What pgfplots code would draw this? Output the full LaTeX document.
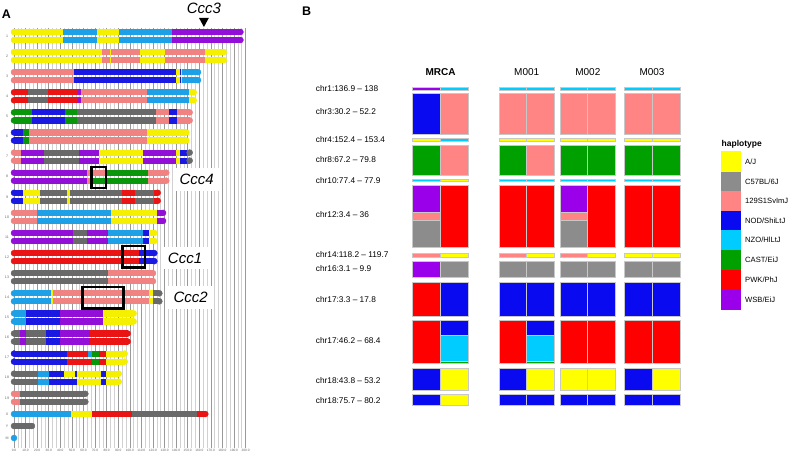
\documentclass[border=0pt]{standalone}
\usepackage{fontspec}
\setmainfont{Liberation Sans}
\usepackage{pgfplots}
\pgfplotsset{compat=1.18}

% panel A colours
\definecolor{aY}{RGB}{245,240,0}
\definecolor{aK}{RGB}{105,105,105}
\definecolor{aS}{RGB}{240,130,130}
\definecolor{aB}{RGB}{25,25,225}
\definecolor{aL}{RGB}{30,160,230}
\definecolor{aG}{RGB}{10,150,10}
\definecolor{aR}{RGB}{235,20,20}
\definecolor{aP}{RGB}{145,15,215}
% panel B colours
\definecolor{bY}{RGB}{255,255,0}
\definecolor{bK}{RGB}{140,140,140}
\definecolor{bS}{RGB}{255,133,133}
\definecolor{bB}{RGB}{10,10,240}
\definecolor{bC}{RGB}{0,204,255}
\definecolor{bG}{RGB}{0,160,0}
\definecolor{bR}{RGB}{255,0,0}
\definecolor{bP}{RGB}{155,0,235}
\definecolor{bd}{RGB}{200,200,200}

% chromosome segments (panel A): colour, y, from, to
\newcommand{\hs}[4]{\addplot[forget plot,line width=6.2pt,color=#1] coordinates {(#3,#2) (#4,#2)};}
\newcommand{\ds}[5]{\hs{#1}{#2}{#4}{#5}\hs{#1}{#3}{#4}{#5}}
\newcommand{\cp}[3]{\addplot[forget plot,only marks,mark=*,mark size=3.0pt,color=#1] coordinates {(#3,#2)};}
\newcommand{\dcp}[4]{\cp{#1}{#2}{#4}\cp{#1}{#3}{#4}}

% panel B cells: colour, x0, x1, y0, y1
\newcommand{\cell}[5]{\addplot[forget plot,fill=#1,draw=bd,line width=0.7pt] coordinates {(#2,#4) (#3,#4) (#3,#5) (#2,#5)} -- cycle;}
\newcommand{\pair}[7]{\cell{#6}{#1}{#2}{#4}{#5}\cell{#7}{#2}{#3}{#4}{#5}}
\newcommand{\MRCA}[4]{\pair{412.7}{440.4}{468.3}{#1}{#2}{#3}{#4}}
\newcommand{\Mone}[4]{\pair{499}{526.7}{554.3}{#1}{#2}{#3}{#4}}
\newcommand{\Mtwo}[4]{\pair{560}{587.8}{615.7}{#1}{#2}{#3}{#4}}
\newcommand{\Mthr}[4]{\pair{624}{652}{680}{#1}{#2}{#3}{#4}}
\newcommand{\key}[3]{\addplot[forget plot,fill=#1,draw=none] coordinates {(721,#2) (740.7,#2) (740.7,#3) (721,#3)} -- cycle;}

\begin{document}
\begin{tikzpicture}
\path[use as bounding box] (0,0) rectangle (794pt,456pt);

%================ Panel A =================
\begin{axis}[
  at={(129.8pt,218pt)}, anchor=center,
  scale only axis, width=231.6pt, height=420pt,
  xmin=0, xmax=200, ymin=-448, ymax=-28,
  axis line style={draw=none}, tick style={draw=none},
  xtick={0,10,...,200}, minor x tick num=2,
  xmajorgrids, xminorgrids,
  major grid style={color=black!40,line width=0.5pt},
  minor grid style={color=black!18,line width=0.5pt},
  xticklabel style={font=\fontsize{3.2}{3.5}\selectfont, text=black!60, inner sep=1pt,
    /pgf/number format/.cd, fixed, fixed zerofill, precision=1, assume math mode=true},
  ytick={-36,-56.1,-76.2,-96.3,-116.4,-136.5,-156.6,-176.7,-196.8,-216.9,-237,-257.1,-277.2,-297.3,-317.4,-337.5,-357.6,-377.7,-397.8,-414,-426,-438},
  yticklabels={1,2,3,4,5,6,7,8,9,10,11,12,13,14,15,16,17,18,19,X,Y,M},
  yticklabel style={font=\fontsize{3.6}{4}\selectfont, text=black!60, anchor=center, xshift=-7pt},
  clip=false,
]
% chr1
\dcp{aY}{-32}{-40}{0}
\ds{aY}{-32}{-40}{0}{42.6}
\ds{aL}{-32}{-40}{42.6}{71.4}
\ds{aY}{-32}{-40}{71.4}{91.0}
\ds{aL}{-32}{-40}{91.0}{136.7}
\ds{aP}{-32}{-40}{136.7}{195.5}
\dcp{aP}{-32}{-40}{195.5}
% chr2
\dcp{aY}{-52.1}{-60.1}{0}
\ds{aY}{-52.1}{-60.1}{0}{76.3}
\ds{aS}{-52.1}{-60.1}{76.3}{108.8}
\ds{aY}{-52.1}{-60.1}{82.6}{83.2}
\ds{aY}{-52.1}{-60.1}{108.8}{130.4}
\ds{aS}{-52.1}{-60.1}{130.4}{165.0}
\ds{aY}{-52.1}{-60.1}{165.0}{181.1}
\dcp{aY}{-52.1}{-60.1}{181.1}
% chr3
\dcp{aS}{-72.2}{-80.2}{0}
\ds{aS}{-72.2}{-80.2}{0}{51.8}
\ds{aB}{-72.2}{-80.2}{51.8}{139.9}
\ds{aY}{-72.2}{-80.2}{139.9}{144.8}
\ds{aB}{-72.2}{-80.2}{143.0}{143.6}
\ds{aL}{-72.2}{-80.2}{144.8}{158.9}
\dcp{aL}{-72.2}{-80.2}{158.9}
% chr4
\dcp{aR}{-92.3}{-100.3}{0}
\ds{aR}{-92.3}{-100.3}{0}{12.4}
\ds{aK}{-92.3}{-100.3}{12.4}{29.0}
\ds{aR}{-92.3}{-100.3}{29.0}{55.6}
\ds{aP}{-92.3}{-100.3}{55.6}{57.6}
\ds{aS}{-92.3}{-100.3}{57.6}{114.6}
\ds{aL}{-92.3}{-100.3}{114.6}{151.1}
\ds{aY}{-92.3}{-100.3}{151.1}{155.2}
\dcp{aY}{-92.3}{-100.3}{155.2}
% chr5
\dcp{aG}{-112.4}{-120.4}{0}
\ds{aG}{-112.4}{-120.4}{0}{15.3}
\ds{aB}{-112.4}{-120.4}{15.3}{44.0}
\ds{aG}{-112.4}{-120.4}{44.0}{54.7}
\ds{aK}{-112.4}{-120.4}{54.7}{122.6}
\ds{aS}{-112.4}{-120.4}{122.6}{134.1}
\ds{aB}{-112.4}{-120.4}{134.1}{140.5}
\ds{aS}{-112.4}{-120.4}{140.5}{151.7}
\dcp{aS}{-112.4}{-120.4}{151.7}
% chr6
\dcp{aB}{-132.5}{-140.5}{0}
\ds{aB}{-132.5}{-140.5}{0}{8.1}
\ds{aG}{-132.5}{-140.5}{8.1}{13.0}
\ds{aS}{-132.5}{-140.5}{13.0}{114.6}
\ds{aY}{-132.5}{-140.5}{114.6}{148.8}
\dcp{aY}{-132.5}{-140.5}{148.8}
% chr7
\dcp{aS}{-152.6}{-160.6}{0}
\ds{aS}{-152.6}{-160.6}{0}{5.8}
\ds{aP}{-152.6}{-160.6}{5.8}{26.2}
\ds{aK}{-152.6}{-160.6}{26.2}{56.1}
\ds{aP}{-152.6}{-160.6}{56.1}{73.7}
\ds{aY}{-152.6}{-160.6}{73.7}{111.1}
\ds{aP}{-152.6}{-160.6}{111.1}{139.6}
\ds{aY}{-152.6}{-160.6}{139.6}{143.3}
\ds{aB}{-152.6}{-160.6}{143.3}{149.5}
\ds{aK}{-152.6}{-160.6}{149.5}{151.7}
\dcp{aK}{-152.6}{-160.6}{151.7}
% chr8
\dcp{aP}{-172.7}{-180.7}{0}
\ds{aP}{-172.7}{-180.7}{0}{63.3}
\hs{aS}{-172.7}{63.3}{79.4}
\hs{aS}{-180.7}{63.3}{67.9}
\hs{aG}{-180.7}{67.9}{79.4}
\ds{aG}{-172.7}{-180.7}{79.4}{116.0}
\ds{aS}{-172.7}{-180.7}{116.0}{131.5}
\dcp{aS}{-172.7}{-180.7}{131.5}
% chr9
\dcp{aB}{-192.8}{-200.8}{0}
\ds{aB}{-192.8}{-200.8}{0}{7.5}
\ds{aY}{-192.8}{-200.8}{7.5}{22.5}
\ds{aK}{-192.8}{-200.8}{22.5}{46.1}
\ds{aY}{-192.8}{-200.8}{46.1}{48.4}
\ds{aK}{-192.8}{-200.8}{48.4}{93.6}
\ds{aR}{-192.8}{-200.8}{93.6}{104.5}
\ds{aK}{-192.8}{-200.8}{104.5}{121.2}
\ds{aR}{-192.8}{-200.8}{121.2}{124.1}
\dcp{aR}{-192.8}{-200.8}{124.1}
% chr10
\dcp{aS}{-212.9}{-220.9}{0}
\ds{aS}{-212.9}{-220.9}{0}{20.1}
\ds{aL}{-212.9}{-220.9}{20.1}{83.5}
\ds{aY}{-212.9}{-220.9}{83.5}{123.8}
\ds{aP}{-212.9}{-220.9}{123.8}{128.7}
\dcp{aP}{-212.9}{-220.9}{128.7}
% chr11
\dcp{aP}{-233}{-241}{0}
\ds{aP}{-233}{-241}{0}{51.2}
\ds{aK}{-233}{-241}{51.2}{63.3}
\ds{aP}{-233}{-241}{63.3}{80.9}
\ds{aL}{-233}{-241}{80.9}{111.7}
\ds{aB}{-233}{-241}{111.7}{116.9}
\ds{aY}{-233}{-241}{116.9}{121.2}
\dcp{aY}{-233}{-241}{121.2}
% chr12
\dcp{aR}{-253.1}{-261.1}{0}
\ds{aR}{-253.1}{-261.1}{0}{108.2}
\ds{aB}{-253.1}{-261.1}{108.2}{121.2}
\dcp{aB}{-253.1}{-261.1}{121.2}
% chr13
\dcp{aK}{-273.2}{-281.2}{0}
\ds{aK}{-273.2}{-281.2}{0}{80.9}
\ds{aS}{-273.2}{-281.2}{80.9}{120.0}
\dcp{aS}{-273.2}{-281.2}{120.0}
% chr14
\dcp{aL}{-293.3}{-301.3}{0}
\ds{aL}{-293.3}{-301.3}{0}{31.7}
\ds{aY}{-293.3}{-301.3}{31.7}{33.9}
\ds{aS}{-293.3}{-301.3}{33.9}{116.9}
\ds{aY}{-293.3}{-301.3}{116.9}{120.3}
\ds{aK}{-293.3}{-301.3}{120.3}{125.5}
\dcp{aK}{-293.3}{-301.3}{125.5}
% chr15
\dcp{aL}{-313.4}{-321.4}{0}
\ds{aL}{-313.4}{-321.4}{0}{10.4}
\ds{aB}{-313.4}{-321.4}{10.4}{39.7}
\ds{aP}{-313.4}{-321.4}{39.7}{77.1}
\ds{aY}{-313.4}{-321.4}{77.1}{103.3}
\dcp{aY}{-313.4}{-321.4}{103.3}
% chr16
\dcp{aK}{-333.5}{-341.5}{0}
\ds{aK}{-333.5}{-341.5}{0}{5.2}
\ds{aP}{-333.5}{-341.5}{5.2}{10.1}
\ds{aK}{-333.5}{-341.5}{10.1}{27.6}
\ds{aB}{-333.5}{-341.5}{27.6}{39.7}
\ds{aP}{-333.5}{-341.5}{39.7}{65.6}
\ds{aR}{-333.5}{-341.5}{65.6}{98.2}
\dcp{aR}{-333.5}{-341.5}{98.2}
% chr17
\dcp{aB}{-353.6}{-361.6}{0}
\ds{aB}{-353.6}{-361.6}{0}{46.1}
\hs{aR}{-353.6}{46.1}{63.6}
\hs{aL}{-353.6}{63.6}{67.1}
\hs{aR}{-361.6}{46.1}{67.1}
\ds{aG}{-353.6}{-361.6}{67.1}{73.4}
\ds{aR}{-353.6}{-361.6}{73.4}{79.4}
\ds{aY}{-353.6}{-361.6}{79.4}{95.6}
\dcp{aY}{-353.6}{-361.6}{95.6}
% chr18
\dcp{aK}{-373.7}{-381.7}{0}
\ds{aK}{-373.7}{-381.7}{0}{21.0}
\ds{aL}{-373.7}{-381.7}{21.0}{30.5}
\hs{aB}{-373.7}{30.5}{43.5}
\hs{aY}{-373.7}{43.5}{52.7}
\hs{aB}{-373.7}{52.7}{54.7}
\hs{aB}{-381.7}{30.5}{54.7}
\ds{aY}{-373.7}{-381.7}{54.7}{75.1}
\ds{aB}{-373.7}{-381.7}{75.1}{79.4}
\ds{aY}{-373.7}{-381.7}{79.4}{90.4}
\dcp{aY}{-373.7}{-381.7}{90.4}
% chr19
\dcp{aS}{-393.8}{-401.8}{0}
\ds{aS}{-393.8}{-401.8}{0}{5.2}
\ds{aK}{-393.8}{-401.8}{5.2}{61.6}
\dcp{aK}{-393.8}{-401.8}{61.6}
% X
\cp{aL}{-414}{0}
\hs{aL}{-414}{0}{49.2}
\hs{aY}{-414}{49.2}{67.6}
\hs{aR}{-414}{67.6}{102.2}
\hs{aK}{-414}{102.2}{157.8}
\hs{aR}{-414}{157.8}{165.2}
\cp{aR}{-414}{165.2}
% Y
\cp{aK}{-426}{0}
\hs{aK}{-426}{0}{15.5}
\cp{aK}{-426}{15.5}
% M
\cp{aL}{-438}{0}

% QTL boxes
\draw[line width=2.6pt] (axis cs:67.1,-167) rectangle (axis cs:79.4,-188);
\draw[line width=2.6pt] (axis cs:93.8,-246) rectangle (axis cs:113.1,-267.3);
\draw[line width=2.6pt] (axis cs:59.3,-287) rectangle (axis cs:94.4,-308.3);
\node[fill=white,inner xsep=6pt,inner ysep=6pt,font=\fontsize{15}{15}\selectfont\itshape] at (axis cs:157.8,-179.5) {Ccc4};
\node[fill=white,inner xsep=6pt,inner ysep=6pt,font=\fontsize{15}{15}\selectfont\itshape] at (axis cs:147.7,-258) {Ccc1};
\node[fill=white,inner xsep=6pt,inner ysep=6pt,font=\fontsize{15}{15}\selectfont\itshape] at (axis cs:152.6,-297.5) {Ccc2};
\node[font=\fontsize{15}{15}\selectfont\itshape] at (axis cs:164,-8.5) {Ccc3};
\fill (axis cs:159.8,-18) -- (axis cs:168.2,-18) -- (axis cs:164,-27) -- cycle;
\end{axis}

%================ Panel B =================
\begin{axis}[
  at={(397pt,228pt)}, anchor=center,
  scale only axis, width=794pt, height=456pt,
  xmin=0, xmax=794, ymin=0, ymax=456, y dir=reverse,
  hide axis, clip=false,
]
% chr1
\MRCA{87.3}{90.0}{bP}{bC}\Mone{87.3}{90.0}{bC}{bC}\Mtwo{87.3}{90.0}{bC}{bC}\Mthr{87.3}{90.0}{bC}{bC}
% chr3
\MRCA{93.3}{134}{bB}{bS}\Mone{93.3}{134}{bS}{bS}\Mtwo{93.3}{134}{bS}{bS}\Mthr{93.3}{134}{bS}{bS}
% chr4
\MRCA{138.3}{141}{bY}{bC}\Mone{138.3}{141}{bY}{bY}\Mtwo{138.3}{141}{bY}{bY}\Mthr{138.3}{141}{bY}{bY}
% chr8
\MRCA{145}{175}{bG}{bS}\Mone{145}{175}{bG}{bS}\Mtwo{145}{175}{bG}{bG}\Mthr{145}{175}{bG}{bG}
% chr10
\MRCA{179}{181.7}{bC}{bY}\Mone{179}{181.7}{bC}{bC}\Mtwo{179}{181.7}{bC}{bC}\Mthr{179}{181.7}{bC}{bC}
% chr12
\MRCA{185.7}{247.7}{bK}{bR}\Mone{185.7}{247.7}{bR}{bR}\Mtwo{185.7}{247.7}{bK}{bR}\Mthr{185.7}{247.7}{bR}{bR}
\cell{bP}{412.7}{440.4}{185.7}{212.3}\cell{bS}{412.7}{440.4}{212.3}{220}
\cell{bP}{560}{587.8}{185.7}{212.3}\cell{bS}{560}{587.8}{212.3}{220}
% chr14
\MRCA{253.3}{257.3}{bS}{bY}\Mone{253.3}{257.3}{bS}{bY}\Mtwo{253.3}{257.3}{bS}{bY}\Mthr{253.3}{257.3}{bY}{bY}
% chr16
\MRCA{261}{277.3}{bP}{bK}\Mone{261}{277.3}{bK}{bK}\Mtwo{261}{277.3}{bK}{bK}\Mthr{261}{277.3}{bK}{bK}
% chr17a
\MRCA{282}{316.7}{bR}{bB}\Mone{282}{316.7}{bB}{bB}\Mtwo{282}{316.7}{bB}{bB}\Mthr{282}{316.7}{bB}{bB}
% chr17b
\MRCA{320.7}{363.3}{bR}{bC}\Mone{320.7}{363.3}{bR}{bC}\Mtwo{320.7}{363.3}{bR}{bR}\Mthr{320.7}{363.3}{bR}{bR}
\cell{bB}{440.4}{468.3}{320.7}{335.7}\cell{bG}{440.4}{468.3}{361.7}{363.3}
\cell{bB}{526.7}{554.3}{320.7}{335.7}\cell{bG}{526.7}{554.3}{361.7}{363.3}
% chr18a
\MRCA{368.3}{390.7}{bB}{bY}\Mone{368.3}{390.7}{bB}{bY}\Mtwo{368.3}{390.7}{bY}{bY}\Mthr{368.3}{390.7}{bB}{bY}
% chr18b
\MRCA{394.7}{405.3}{bB}{bY}\Mone{394.7}{405.3}{bB}{bB}\Mtwo{394.7}{405.3}{bB}{bB}\Mthr{394.7}{405.3}{bB}{bB}

% legend keys
\key{bY}{151}{171.7}
\key{bK}{171.7}{191}
\key{bS}{191}{210.7}
\key{bB}{210.7}{230}
\key{bC}{230}{250}
\key{bG}{250}{269.7}
\key{bR}{269.7}{289.7}
\key{bP}{289.7}{309.7}

% row labels
\begin{scope}[every node/.style={anchor=west,inner sep=0pt,font=\fontsize{8.3}{10}\selectfont}]
\node at (axis cs:315.7,88.5) {chr1:136.9 – 138};
\node at (axis cs:315.7,112) {chr3:30.2 – 52.2};
\node at (axis cs:315.7,140) {chr4:152.4 – 153.4};
\node at (axis cs:315.7,159.5) {chr8:67.2 – 79.8};
\node at (axis cs:315.7,180.3) {chr10:77.4 – 77.9};
\node at (axis cs:315.7,215) {chr12:3.4 – 36};
\node at (axis cs:315.7,254.5) {chr14:118.2 – 119.7};
\node at (axis cs:315.7,268.7) {chr16:3.1 – 9.9};
\node at (axis cs:315.7,299.5) {chr17:3.3 – 17.8};
\node at (axis cs:315.7,340.5) {chr17:46.2 – 68.4};
\node at (axis cs:315.7,380.3) {chr18:43.8 – 53.2};
\node at (axis cs:315.7,400.3) {chr18:75.7 – 80.2};
\end{scope}
% headers
\node[font=\fontsize{10}{12}\selectfont\bfseries] at (axis cs:440.5,72.3) {MRCA};
\node[font=\fontsize{10}{12}\selectfont] at (axis cs:526.7,72.3) {M001};
\node[font=\fontsize{10}{12}\selectfont] at (axis cs:587.8,72.3) {M002};
\node[font=\fontsize{10}{12}\selectfont] at (axis cs:652,72.3) {M003};
% legend text
\node[anchor=west,inner sep=0pt,font=\fontsize{8.5}{10}\selectfont\bfseries] at (axis cs:721.5,144) {haplotype};
\begin{scope}[every node/.style={anchor=west,inner sep=0pt,font=\fontsize{7.6}{9}\selectfont}]
\node at (axis cs:745,161.3) {A/J};
\node at (axis cs:745,181.3) {C57BL/6J};
\node at (axis cs:745,200.8) {129S1SvImJ};
\node at (axis cs:745,220.3) {NOD/ShiLtJ};
\node at (axis cs:745,240) {NZO/HlLtJ};
\node at (axis cs:745,259.8) {CAST/EiJ};
\node at (axis cs:745,279.7) {PWK/PhJ};
\node at (axis cs:745,299.7) {WSB/EiJ};
\end{scope}
% panel letters
\node[font=\fontsize{12.5}{14}\selectfont\bfseries] at (axis cs:6.5,13.8) {A};
\node[font=\fontsize{12.5}{14}\selectfont\bfseries] at (axis cs:306.7,11) {B};
\end{axis}
\end{tikzpicture}
\end{document}
